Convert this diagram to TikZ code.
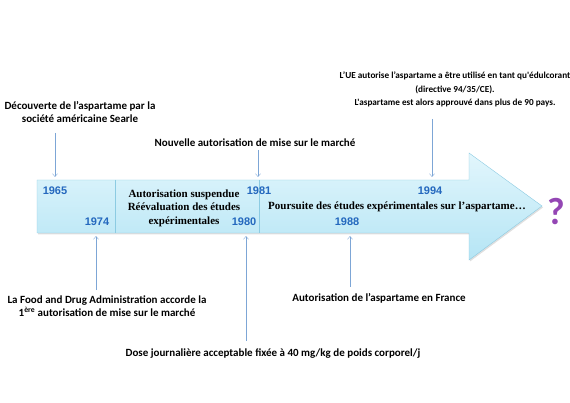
\documentclass[tikz,border=0pt]{standalone}
\usepackage{fontspec}
\setmainfont{Liberation Serif}
\newfontfamily\calib{Carlito}
\newfontfamily\arialf{Liberation Sans}
\usetikzlibrary{arrows.meta,shadows}
\definecolor{bodytop}{HTML}{E2F6FC}
\definecolor{bodybot}{HTML}{B5E5F5}
\definecolor{bodyline}{HTML}{8CCBE2}
\definecolor{yearblue}{HTML}{2468BE}
\definecolor{tickblue}{HTML}{7DA6D6}
\definecolor{qpurple}{HTML}{9446B4}
\tikzset{
  year/.style={font=\arialf\bfseries\fontsize{11}{12}\selectfont,text=yearblue,inner sep=0pt},
  note/.style={font=\calib\bfseries\fontsize{11}{13}\selectfont,align=center,inner sep=0pt},
  smallnote/.style={note,font=\calib\bfseries\fontsize{9.2}{13.5}\selectfont},
  phase/.style={font=\bfseries\fontsize{11}{13.5}\selectfont,align=center,inner sep=0pt},
  tick/.style={draw=tickblue,thin,-{Straight Barb[length=3pt,width=5pt]}}
}
\begin{document}
\begin{tikzpicture}[x=1pt,y=-1pt]
\useasboundingbox (0,0) rectangle (570,403);
% the arrow
\draw[bodyline,top color=bodytop,bottom color=bodybot,drop shadow={opacity=0.25,shadow xshift=1pt,shadow yshift=-1.5pt}]
  (37,180) -- (469,180) -- (469,153) -- (542,206) -- (469,260) -- (469,233) -- (37,233) -- cycle;
\draw[bodyline] (115,180) -- (115,233);
\draw[bodyline] (259,180) -- (259,233);
% years
\node[year] (y65) at (55,191) {1965};
\node[year] (y74) at (97,222) {1974};
\node[year] (y81) at (259,191) {1981};
\node[year] (y80) at (244,222) {1980};
\node[year] (y94) at (430,191) {1994};
\node[year] (y88) at (347,222) {1988};
% phases
\node[phase] (susp) at (184,208) {Autorisation suspendue\\R\'e\'evaluation des \'etudes\\exp\'erimentales};
\node[phase] (pours) at (397,207) {Poursuite des \'etudes exp\'erimentales sur l’aspartame\dots};
\node[font=\calib\bfseries\fontsize{38}{38}\selectfont,text=qpurple,inner sep=0pt] (quest) at (556,212) {?};
% events
\node[note] (n65) at (80,112.5) {Découverte de l’aspartame par la\\société américaine Searle};
\node[note] (n81) at (255,143) {Nouvelle autorisation de mise sur le marché};
\node[smallnote] (n94) at (455,89.5) {L’UE autorise l’aspartame a être utilisé en tant qu'édulcorant\\(directive 94/35/CE).\\L'aspartame est alors approuvé dans plus de 90 pays.};
\node[note] (n74) at (107,306) {La Food and Drug Administration accorde la\\1\textsuperscript{ère} autorisation de mise sur le marché};
\node[note] (n88) at (379,298) {Autorisation de l’aspartame en France};
\node[note] (n80) at (273,354) {Dose journalière acceptable fixée à 40 mg/kg de poids corporel/j};
% connectors
\coordinate (a65) at (55,177);
\coordinate (a81) at (258,177);
\coordinate (a94) at (432,177);
\coordinate (a74) at (96,236);
\coordinate (a80) at (246,236);
\coordinate (a88) at (350,236);
\draw[tick] (55,133) -- (a65);
\draw[tick] (258,150) -- (a81);
\draw[tick] (432,119) -- (a94);
\draw[tick] (96,290) -- (a74);
\draw[tick] (246,341) -- (a80);
\draw[tick] (350,287) -- (a88);
\end{tikzpicture}
\end{document}
